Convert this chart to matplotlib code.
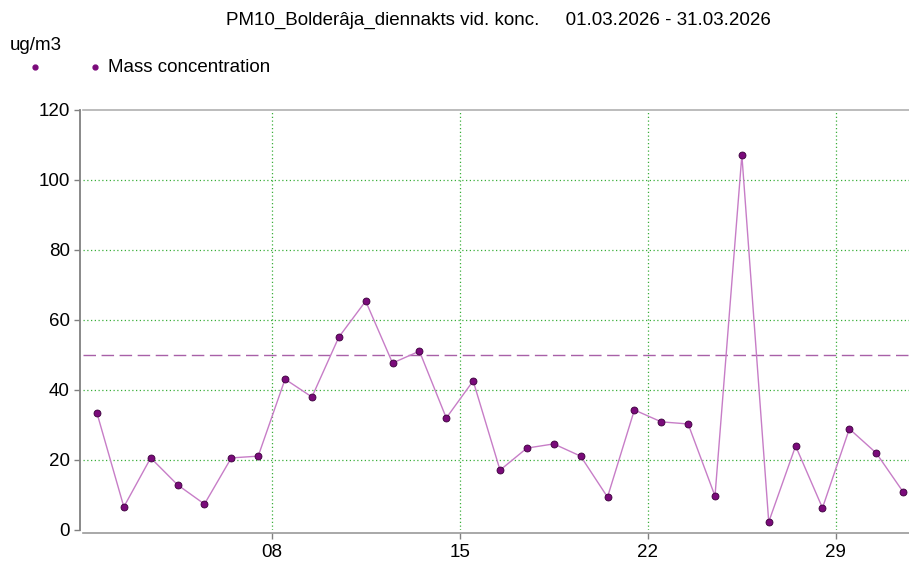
import matplotlib.pyplot as plt
from matplotlib.lines import Line2D

plt.rcParams['font.family'] = ['Liberation Sans', 'DejaVu Sans']

# daily mean PM10, 1..31 March 2026
days = list(range(1, 32))
conc = [33.4, 6.6, 20.6, 12.9, 7.4, 20.6, 21.1, 43.1, 38.0, 55.1,
        65.4, 47.7, 51.1, 32.0, 42.6, 17.1, 23.4, 24.6, 21.1, 9.4,
        34.3, 30.9, 30.3, 9.7, 107.1, 2.3, 24.0, 6.3, 28.9, 22.0, 10.9]
limit_value = 50
tick_pos = [7.5, 14.5, 21.5, 28.5]
tick_labels = ["08", "15", "22", "29"]
y_ticks = [0, 20, 40, 60, 80, 100, 120]

title = "PM10_Bolderâja_diennakts vid. konc.     01.03.2026 - 31.03.2026"

W, H = 909, 563
fig = plt.figure(figsize=(W / 100, H / 100), dpi=100)
ax = fig.add_axes([83 / W, 1 - 530 / H, 1 - 83 / W, 420 / H])

line_col = "#c77dc7"
marker_col = "#7a0a7a"

ax.axhline(limit_value, color="#a860a8", lw=1.0, dashes=(9, 4), zorder=2)
ax.plot(days, conc, color=line_col, lw=1.0, marker="o", ms=5,
        mfc=marker_col, mec="#3a003a", mew=0.6, zorder=3, clip_on=False)

ax.set_xlim(0.48, 31.22)
ax.set_ylim(0, 120)
ax.set_xticks(tick_pos)
ax.set_xticklabels(tick_labels)
ax.set_yticks(y_ticks)

for y in y_ticks[1:-1]:
    ax.axhline(y, color="#3aae3a", lw=0.9, ls=(0, (1, 2)), zorder=1)
for x in tick_pos:
    ax.axvline(x, color="#3aae3a", lw=0.9, ls=(0, (1, 2)), zorder=1)

ax.spines["right"].set_visible(False)
ax.spines["top"].set_color("#b0b0b0")
ax.spines["top"].set_linewidth(1.2)
ax.spines["left"].set_position(("outward", 2))
ax.spines["left"].set_color("#808080")
ax.spines["left"].set_linewidth(1.3)
ax.spines["bottom"].set_position(("outward", 2))
ax.spines["bottom"].set_color("#9a9a9a")
ax.spines["bottom"].set_linewidth(1.2)

ax.tick_params(axis="both", labelsize=13.5, colors="#808080", labelcolor="black",
               length=4, width=1)
ax.tick_params(axis="x", pad=4)

fig.text(498 / W, 1 - 20 / H, title, ha="center", va="center", fontsize=13.5)
fig.text(10 / W, 1 - 45 / H, "ug/m3", ha="left", va="center", fontsize=13.5)
fig.text(108 / W, 1 - 68 / H, "Mass concentration", ha="left", va="center",
         fontsize=13.5)
for px in (35, 95):
    fig.add_artist(Line2D([px / W], [1 - 67 / H], marker="o", ms=3.5,
                          color=marker_col, transform=fig.transFigure))

fig.savefig("out.png", dpi=100)
